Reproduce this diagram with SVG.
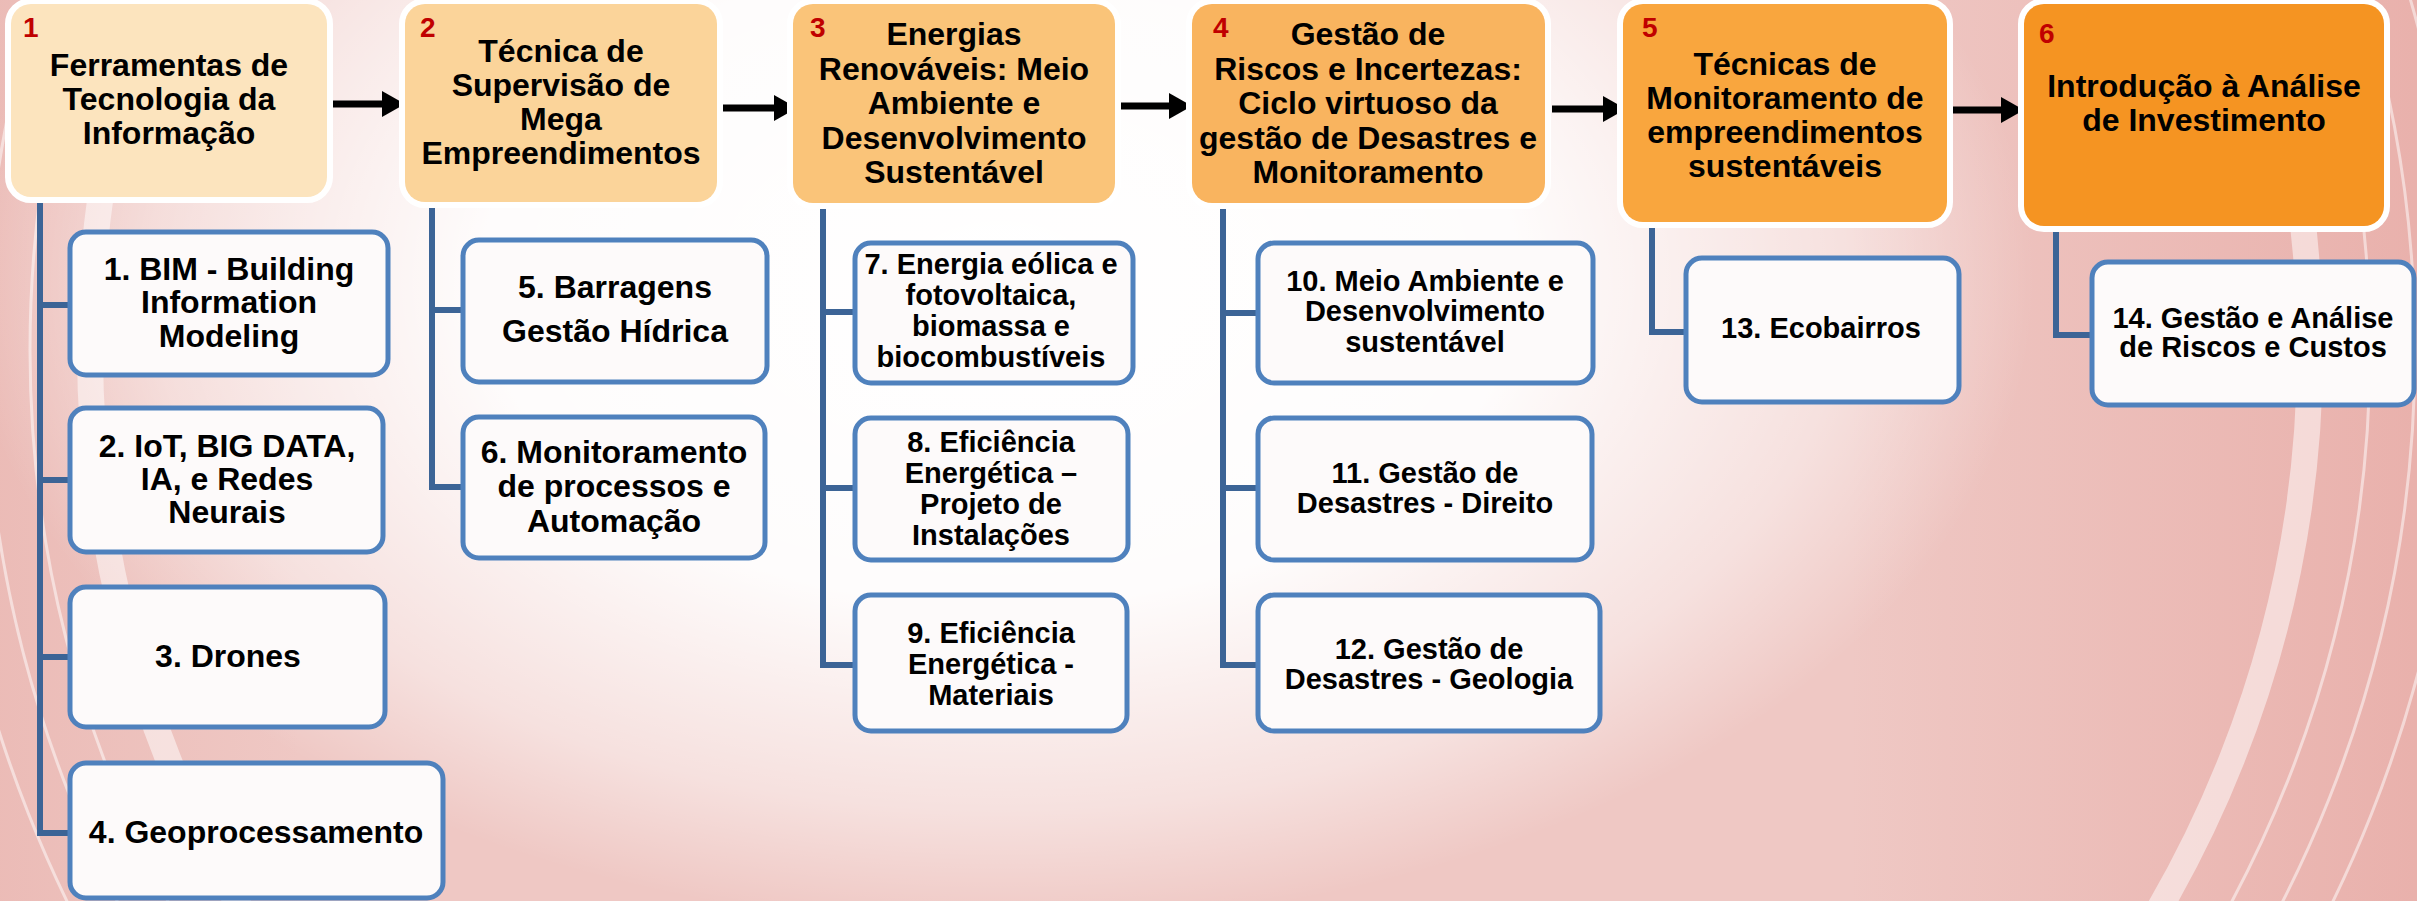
<svg xmlns="http://www.w3.org/2000/svg" width="2417" height="901" viewBox="0 0 2417 901">
<defs>
<radialGradient id="glow" gradientUnits="userSpaceOnUse" cx="1000" cy="280" r="900" gradientTransform="translate(1000 280) scale(1.15 0.72) translate(-1000 -280)">
<stop offset="0" stop-color="#ffffff" stop-opacity="1"/>
<stop offset="0.5" stop-color="#ffffff" stop-opacity="0.95"/>
<stop offset="0.82" stop-color="#ffffff" stop-opacity="0.45"/>
<stop offset="1" stop-color="#ffffff" stop-opacity="0"/>
</radialGradient>
<linearGradient id="rightTint" x1="1850" y1="0" x2="2417" y2="0" gradientUnits="userSpaceOnUse">
<stop offset="0" stop-color="#e39a94" stop-opacity="0"/>
<stop offset="1" stop-color="#e39a94" stop-opacity="0.5"/>
</linearGradient>
<linearGradient id="leftTint" x1="0" y1="0" x2="300" y2="0" gradientUnits="userSpaceOnUse">
<stop offset="0" stop-color="#e6a9a3" stop-opacity="0.4"/>
<stop offset="1" stop-color="#e6a9a3" stop-opacity="0"/>
</linearGradient>
<marker id="ah" markerUnits="userSpaceOnUse" markerWidth="26" markerHeight="26" refX="3" refY="13" orient="auto">
<path d="M0,0 L23,13 L0,26 Z" fill="#000000"/>
</marker>
<style>
.hdr{stroke:#ffffff;stroke-width:12;paint-order:stroke}
.num{font-family:"Liberation Sans",Arial,sans-serif;font-weight:bold;font-size:28px;fill:#C00000}
.ht{font-family:"Liberation Sans",Arial,sans-serif;font-weight:bold;font-size:32px;fill:#000000;text-anchor:middle}
.cb{fill:#fdfafa;stroke:#4F81BD;stroke-width:5}
.ct{font-family:"Liberation Sans",Arial,sans-serif;font-weight:bold;font-size:32px;fill:#000000;text-anchor:middle}
.cs{font-family:"Liberation Sans",Arial,sans-serif;font-weight:bold;font-size:29px;fill:#000000;text-anchor:middle}
.conn{fill:none;stroke:#3C6496;stroke-width:6}
.arr{fill:none;stroke:#000000;stroke-width:7}
.lane{fill:none;stroke:#ffffff;stroke-opacity:0.5}
</style>
</defs>

<g id="background">
<rect x="0" y="0" width="2417" height="901" fill="#efc8c4"/>
<rect x="0" y="0" width="2417" height="901" fill="url(#rightTint)"/>
<rect x="0" y="0" width="2417" height="901" fill="url(#leftTint)"/>
<ellipse cx="1000" cy="280" rx="1100" ry="700" fill="url(#glow)"/>
<circle class="lane" cx="1200" cy="350" r="1110" stroke-width="26"/>
<circle class="lane" cx="1200" cy="350" r="1170" stroke-width="3"/>
<circle class="lane" cx="1200" cy="350" r="1215" stroke-width="3"/>
<circle class="lane" cx="1200" cy="350" r="1260" stroke-width="3"/>
</g>

<g id="connectors">
<path class="arr" d="M332,104 H385" marker-end="url(#ah)"/>
<path class="arr" d="M723,108 H777" marker-end="url(#ah)"/>
<path class="arr" d="M1117,106 H1172" marker-end="url(#ah)"/>
<path class="arr" d="M1552,109 H1606" marker-end="url(#ah)"/>
<path class="arr" d="M1950,110 H2004" marker-end="url(#ah)"/>
<path class="conn" d="M40,197 V833 M37,305 H70 M37,480 H70 M37,657 H70 M37,833 H70"/>
<path class="conn" d="M432,202 V487 M429,310 H463 M429,487 H463"/>
<path class="conn" d="M823,203 V665 M820,312 H855 M820,488 H855 M820,665 H855"/>
<path class="conn" d="M1223,203 V665 M1220,313 H1258 M1220,488 H1258 M1220,665 H1258"/>
<path class="conn" d="M1652,222 V332 M1649,332 H1686"/>
<path class="conn" d="M2056,226 V335 M2053,335 H2092"/>
</g>

<g id="h1">
<rect class="hdr" x="11" y="4" width="316" height="193" rx="20" fill="#FCE4BE"/>
<text class="num" x="23" y="37">1</text>
<text class="ht" x="169" y="76">Ferramentas de</text>
<text class="ht" x="169" y="110">Tecnologia da</text>
<text class="ht" x="169" y="144">Informação</text>
</g>
<g id="h2">
<rect class="hdr" x="405" y="4" width="312" height="198" rx="20" fill="#FBD49A"/>
<text class="num" x="420" y="37">2</text>
<text class="ht" x="561" y="62">Técnica de</text>
<text class="ht" x="561" y="96">Supervisão de</text>
<text class="ht" x="561" y="130">Mega</text>
<text class="ht" x="561" y="164">Empreendimentos</text>
</g>
<g id="h3">
<rect class="hdr" x="793" y="4" width="322" height="199" rx="20" fill="#FAC479"/>
<text class="num" x="810" y="37">3</text>
<text class="ht" x="954" y="45">Energias</text>
<text class="ht" x="954" y="79.5">Renováveis: Meio</text>
<text class="ht" x="954" y="114">Ambiente e</text>
<text class="ht" x="954" y="148.5">Desenvolvimento</text>
<text class="ht" x="954" y="183">Sustentável</text>
</g>
<g id="h4">
<rect class="hdr" x="1192" y="4" width="353" height="199" rx="20" fill="#F9B45F"/>
<text class="num" x="1213" y="37">4</text>
<text class="ht" x="1368" y="45">Gestão de</text>
<text class="ht" x="1368" y="79.5">Riscos e Incertezas:</text>
<text class="ht" x="1368" y="114">Ciclo virtuoso da</text>
<text class="ht" x="1368" y="148.5">gestão de Desastres e</text>
<text class="ht" x="1368" y="183">Monitoramento</text>
</g>
<g id="h5">
<rect class="hdr" x="1623" y="4" width="324" height="218" rx="20" fill="#F9A63E"/>
<text class="num" x="1642" y="37">5</text>
<text class="ht" x="1785" y="75">Técnicas de</text>
<text class="ht" x="1785" y="109">Monitoramento de</text>
<text class="ht" x="1785" y="143">empreendimentos</text>
<text class="ht" x="1785" y="177">sustentáveis</text>
</g>
<g id="h6">
<rect class="hdr" x="2024" y="4" width="360" height="222" rx="20" fill="#F59422"/>
<text class="num" x="2039" y="43">6</text>
<text class="ht" x="2204" y="97">Introdução à Análise</text>
<text class="ht" x="2204" y="131">de Investimento</text>
</g>

<g id="c1">
<rect class="cb" x="70" y="232" width="318" height="143" rx="16"/>
<text class="ct" x="229" y="280">1. BIM - Building</text>
<text class="ct" x="229" y="313">Information</text>
<text class="ct" x="229" y="347">Modeling</text>
</g>
<g id="c2">
<rect class="cb" x="70" y="408" width="313" height="144" rx="16"/>
<text class="ct" x="227" y="457">2. IoT, BIG DATA,</text>
<text class="ct" x="227" y="490">IA, e Redes</text>
<text class="ct" x="227" y="523">Neurais</text>
</g>
<g id="c3">
<rect class="cb" x="70" y="587" width="315" height="140" rx="16"/>
<text class="ct" x="228" y="667">3. Drones</text>
</g>
<g id="c4">
<rect class="cb" x="70" y="763" width="373" height="135" rx="16"/>
<text class="ct" x="256" y="843">4. Geoprocessamento</text>
</g>
<g id="c5">
<rect class="cb" x="463" y="240" width="304" height="142" rx="16"/>
<text class="ct" x="615" y="298">5. Barragens</text>
<text class="ct" x="615" y="342">Gestão Hídrica</text>
</g>
<g id="c6">
<rect class="cb" x="463" y="417" width="302" height="141" rx="16"/>
<text class="ct" x="614" y="463">6. Monitoramento</text>
<text class="ct" x="614" y="497">de processos e</text>
<text class="ct" x="614" y="532">Automação</text>
</g>
<g id="c7">
<rect class="cb" x="855" y="243" width="278" height="140" rx="16"/>
<text class="cs" x="991" y="274">7. Energia eólica e</text>
<text class="cs" x="991" y="305">fotovoltaica,</text>
<text class="cs" x="991" y="336">biomassa  e</text>
<text class="cs" x="991" y="367">biocombustíveis</text>
</g>
<g id="c8">
<rect class="cb" x="855" y="418" width="273" height="142" rx="16"/>
<text class="cs" x="991" y="452">8. Eficiência</text>
<text class="cs" x="991" y="483">Energética –</text>
<text class="cs" x="991" y="514">Projeto de</text>
<text class="cs" x="991" y="545">Instalações</text>
</g>
<g id="c9">
<rect class="cb" x="855" y="595" width="272" height="136" rx="16"/>
<text class="cs" x="991" y="643">9. Eficiência</text>
<text class="cs" x="991" y="674">Energética -</text>
<text class="cs" x="991" y="705">Materiais</text>
</g>
<g id="c10">
<rect class="cb" x="1258" y="243" width="335" height="140" rx="16"/>
<text class="cs" x="1425" y="291">10. Meio Ambiente e</text>
<text class="cs" x="1425" y="321">Desenvolvimento</text>
<text class="cs" x="1425" y="352">sustentável</text>
</g>
<g id="c11">
<rect class="cb" x="1258" y="418" width="334" height="142" rx="16"/>
<text class="cs" x="1425" y="483">11. Gestão de</text>
<text class="cs" x="1425" y="513">Desastres - Direito</text>
</g>
<g id="c12">
<rect class="cb" x="1258" y="595" width="342" height="136" rx="16"/>
<text class="cs" x="1429" y="659">12. Gestão de</text>
<text class="cs" x="1429" y="689">Desastres - Geologia</text>
</g>
<g id="c13">
<rect class="cb" x="1686" y="258" width="273" height="144" rx="16"/>
<text class="cs" x="1821" y="338">13. Ecobairros</text>
</g>
<g id="c14">
<rect class="cb" x="2092" y="262" width="322" height="143" rx="16"/>
<text class="cs" x="2253" y="328">14. Gestão e Análise</text>
<text class="cs" x="2253" y="357">de Riscos e Custos</text>
</g>
</svg>
